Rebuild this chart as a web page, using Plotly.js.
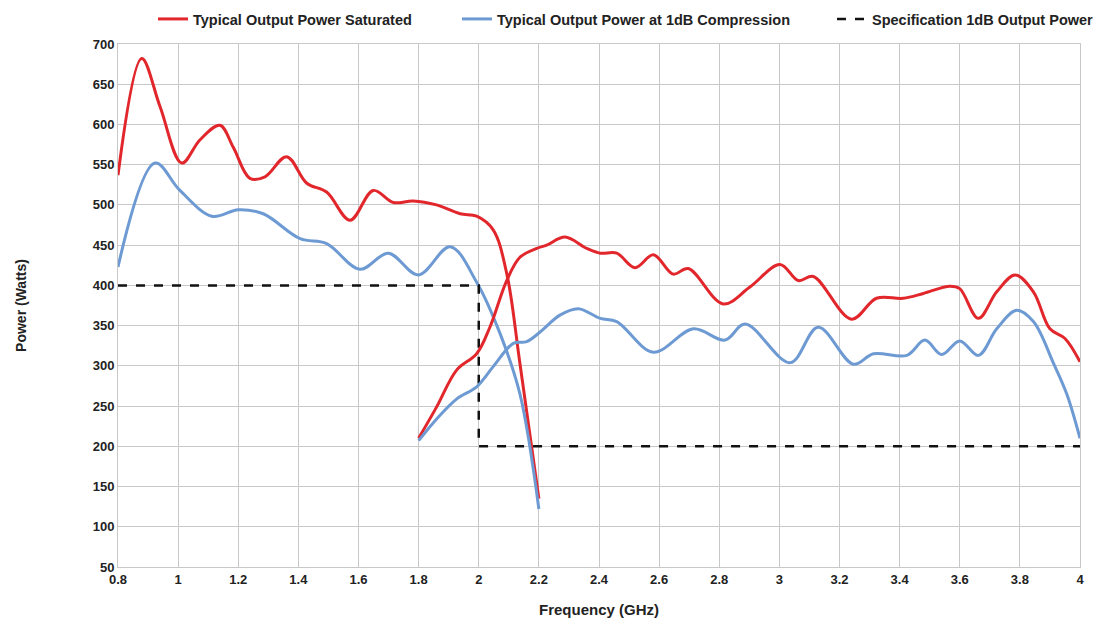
<!DOCTYPE html>
<html><head><meta charset="utf-8">
<script src="https://cdn.plot.ly/plotly-3.0.1.min.js"></script>
<style>html,body{margin:0;padding:0;background:#fff}#c{width:1096px;height:624px}</style>
</head><body><div id="c"></div>
<script>
// Saturated, low band (0.8-2.2 GHz)
const satLowX = [0.8,0.879,0.94,1.012,1.073,1.139,1.183,1.239,1.289,1.361,1.428,1.494,1.572,1.649,1.716,1.782,1.86,1.938,1.993,2.048,2.093,2.137,2.2];
const satLowY = [537,682,622,552,581,599,572,533,535,560,527,516,481,518,503,505,500,489,486,469,415,303,135];
// Saturated, high band (1.8-4 GHz)
const satHighX = [1.8,1.86,1.927,1.993,2.037,2.093,2.137,2.193,2.226,2.287,2.359,2.404,2.459,2.52,2.581,2.647,2.697,2.813,2.902,3.002,3.063,3.113,3.24,3.323,3.412,3.479,3.567,3.6,3.662,3.723,3.784,3.845,3.9,3.95,4.0];
const satHighY = [210,249,295,315,348,406,435,446,450,460,446,440,440,422,438,414,421,377,398,426,406,411,358,384,384,390,399,396,359,392,413,392,346,334,305];
// 1dB compression, low band
const p1LowX = [0.8,0.923,1.006,1.112,1.2,1.283,1.406,1.494,1.605,1.699,1.799,1.905,1.993,2.071,2.137,2.2];
const p1LowY = [423,552,518,486,494,489,458,452,420,440,413,448,404,340,265,122];
// 1dB compression, high band
const p1HighX = [1.8,1.86,1.927,1.993,2.048,2.115,2.159,2.204,2.27,2.331,2.404,2.459,2.581,2.714,2.819,2.886,3.036,3.129,3.246,3.313,3.424,3.484,3.54,3.6,3.662,3.723,3.789,3.845,3.912,3.956,4.0];
const p1HighY = [207,234,259,274,299,328,330,342,363,371,359,355,317,346,332,352,304,348,302,315,313,332,314,331,313,346,369,355,303,265,210];
// Specification
const specX = [0.8,2,2,4];
const specY = [400,400,200,200];
const xTicks = [0.8,1,1.2,1.4,1.6,1.8,2,2.2,2.4,2.6,2.8,3,3.2,3.4,3.6,3.8,4];
const xTickText = ['0.8','1','1.2','1.4','1.6','1.8','2','2.2','2.4','2.6','2.8','3','3.2','3.4','3.6','3.8','4'];

const RED = '#e1262c', BLUE = '#6d9ad3';
const traces = [
  {x: satLowX, y: satLowY, mode:'lines', name:'Typical Output Power Saturated', legendgroup:'sat', legend:'legend',
   line:{color:RED, width:3, shape:'spline', smoothing:1}},
  {x: p1LowX, y: p1LowY, mode:'lines', name:'Typical Output Power at 1dB Compression', legendgroup:'p1', legend:'legend2',
   line:{color:BLUE, width:3, shape:'spline', smoothing:1}},
  {x: specX, y: specY, mode:'lines', name:'Specification 1dB Output Power', legend:'legend3',
   line:{color:'#111', width:2.5, dash:'dash'}},
  {x: satHighX, y: satHighY, mode:'lines', name:'Typical Output Power Saturated', legendgroup:'sat', showlegend:false,
   line:{color:RED, width:3, shape:'spline', smoothing:1}},
  {x: p1HighX, y: p1HighY, mode:'lines', name:'Typical Output Power at 1dB Compression', legendgroup:'p1', showlegend:false,
   line:{color:BLUE, width:3, shape:'spline', smoothing:1}}
];
const tickFont = {family:'"Liberation Sans Narrow","Arial Narrow","Liberation Sans",Arial,sans-serif', size:13, color:'#222', weight:700};
const legFont = {family:'"Liberation Sans",Arial,sans-serif', size:14.5, color:'#222', weight:700};
function leg(px){
  return {orientation:'h', xref:'container', yref:'container', x:px/1096, xanchor:'left',
    y:1-19/624, yanchor:'middle', font:legFont, bgcolor:'rgba(0,0,0,0)', borderwidth:0};
}
const layout = {
  width:1096, height:624,
  margin:{l:118, r:16, t:44, b:57},
  paper_bgcolor:'#fff', plot_bgcolor:'#fff',
  showlegend:true,
  legend: leg(153),
  legend2: leg(457),
  legend3: leg(832),
  xaxis:{range:[0.8,4], tickvals:xTicks, ticktext:xTickText, showgrid:true, gridcolor:'#c8c8c8', gridwidth:1,
    zeroline:false, showline:true, linecolor:'#c8c8c8', mirror:true, ticks:'', tickfont:tickFont,
    title:{text:'Frequency (GHz)', font:{family:'"Liberation Sans",Arial,sans-serif', size:15, color:'#222', weight:700}, standoff:18}},
  yaxis:{range:[50,700], dtick:50, tick0:50, showgrid:true, gridcolor:'#c8c8c8', gridwidth:1,
    zeroline:false, showline:true, linecolor:'#c8c8c8', mirror:true, ticks:'', tickfont:tickFont,
    title:{text:'Power (Watts)', font:{family:'"Liberation Sans",Arial,sans-serif', size:14, color:'#222', weight:700}, standoff:62}}
};
Plotly.newPlot('c', traces, layout, {displayModeBar:false, staticPlot:true});
</script></body></html>
